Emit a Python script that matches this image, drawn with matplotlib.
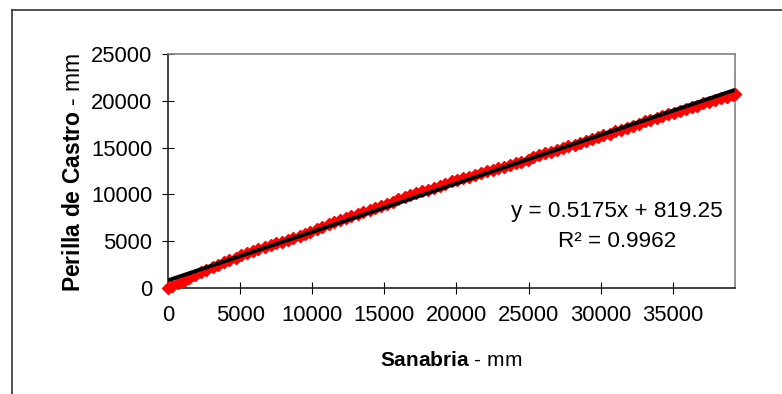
import matplotlib
matplotlib.use("Agg")
import matplotlib.pyplot as plt
from matplotlib.lines import Line2D

plt.rcParams["font.family"] = ["Liberation Sans", "DejaVu Sans"]
plt.rcParams["mathtext.fontset"] = "custom"
plt.rcParams["mathtext.rm"] = "Liberation Sans"
plt.rcParams["mathtext.bf"] = "Liberation Sans:bold"
plt.rcParams["mathtext.it"] = "Liberation Sans:italic"

# Cumulative precipitation (mm): Sanabria vs Perilla de Castro
sanabria = [0, 310, 720, 1080, 1490, 1850, 2300, 2640, 3090, 3470, 3880, 4250,
            4700, 5060, 5480, 5890, 6270, 6720, 7110, 7490, 7930, 8300, 8690,
            9140, 9510, 9880, 10320, 10700, 11150, 11520, 11960, 12340, 12710,
            13180, 13540, 13990, 14360, 14780, 15170, 15600, 15980, 16420,
            16790, 17210, 17620, 18010, 18450, 18830, 19240, 19670, 20040,
            20480, 20860, 21290, 21680, 22090, 22510, 22880, 23320, 23700,
            24130, 24510, 24940, 25330, 25760, 26140, 26570, 26950, 27380,
            27760, 28190, 28580, 29000, 29390, 29810, 30200, 30630, 31010,
            31440, 31830, 32250, 32640, 33070, 33450, 33880, 34270, 34690,
            35080, 35510, 35890, 36320, 36710, 37130, 37520, 37940, 38330,
            38760, 39150, 39320]
perilla = [0, 170, 490, 760, 1070, 1350, 1670, 1905, 2220, 2465, 2740, 2980,
           3250, 3480, 3725, 3915, 4155, 4395, 4560, 4775, 4965, 5175, 5345,
           5550, 5720, 5950, 6260, 6535, 6810, 7060, 7310, 7465, 7675, 7940,
           8075, 8350, 8570, 8750, 9000, 9240, 9470, 9735, 9910, 10155, 10320,
           10490, 10735, 10895, 11135, 11380, 11530, 11740, 11895, 12095,
           12260, 12450, 12620, 12770, 12965, 13125, 13325, 13465, 13705,
           13955, 14210, 14385, 14580, 14705, 14950, 15165, 15325, 15490,
           15735, 15900, 16135, 16300, 16490, 16735, 16930, 17090, 17340,
           17560, 17825, 17990, 18170, 18335, 18570, 18735, 18915, 19130,
           19315, 19495, 19735, 19895, 20075, 20295, 20455, 20640, 20750]

# Linear trend
slope = 0.5175
intercept = 819.25
r_squared = 0.9962

x_ticks = [0, 5000, 10000, 15000, 20000, 25000, 30000, 35000]
y_ticks = [0, 5000, 10000, 15000, 20000, 25000]

fig = plt.figure(figsize=(7.82, 3.94), dpi=100)
fig.patch.set_facecolor("white")

# chart-area frame (left and top edges visible)
W, H = 782.0, 394.0
fig.add_artist(Line2D([12 / W, 12 / W], [0, 1 - 10 / H], color="#333333",
                      lw=1.2, transform=fig.transFigure))
fig.add_artist(Line2D([12 / W, 1], [1 - 10 / H, 1 - 10 / H], color="#333333",
                      lw=1.2, transform=fig.transFigure))

ax = fig.add_axes([168 / W, 1 - 288 / H, (735 - 168) / W, (288 - 54) / H])

ax.plot(sanabria, perilla, linestyle="none", marker="D", markersize=6.5,
        color="#ff0000", markeredgecolor="#ff0000", clip_on=False, zorder=3)

x_end = sanabria[-1]
ax.plot([0, x_end], [intercept, slope * x_end + intercept], color="black",
        lw=2.8, solid_capstyle="butt", zorder=4)

ax.set_xlim(0, 39320)
ax.set_ylim(0, 25000)
ax.set_xticks(x_ticks)
ax.set_yticks(y_ticks)
ax.set_xticklabels([str(v) for v in x_ticks])
ax.set_yticklabels([str(v) for v in y_ticks])
ax.tick_params(direction="inout", length=8.5, width=0.8, labelsize=15.8,
               color="black")
ax.tick_params(axis="x", pad=8)
ax.tick_params(axis="y", pad=7)

for side in ("left", "bottom"):
    ax.spines[side].set_color("#222222")
    ax.spines[side].set_linewidth(1.2)
for side in ("top", "right"):
    ax.spines[side].set_color("#808080")
    ax.spines[side].set_linewidth(1.2)

ax.text(617 / W, 1 - 212 / H, f"y = {slope}x + {intercept}", fontsize=16.2,
        ha="center", va="center", transform=fig.transFigure)
ax.text(617 / W, 1 - 242 / H, f"R\u00b2 = {r_squared}", fontsize=16.2,
        ha="center", va="center", transform=fig.transFigure)

fig.text(451 / W, 1 - 361 / H, r"$\bf{Sanabria}$ - mm", fontsize=15,
         ha="center", va="center")
fig.text(73 / W, 1 - 172 / H, r"$\bf{Perilla\ de\ Castro}$ - mm", fontsize=16.5,
         ha="center", va="center", rotation=90)

fig.savefig("out.png", dpi=100, facecolor="white")
